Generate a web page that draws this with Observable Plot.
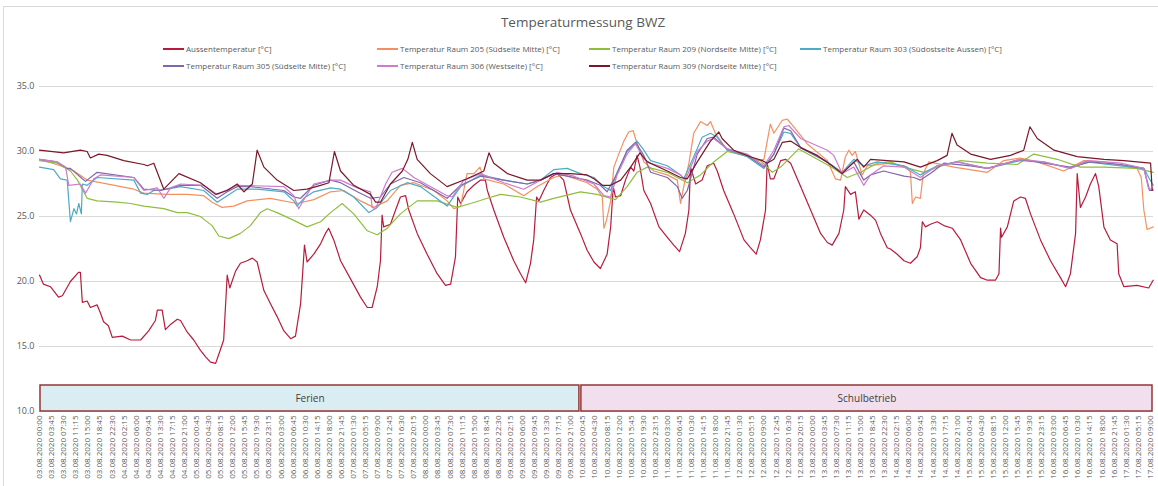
<!DOCTYPE html>
<html><head><meta charset="utf-8">
<script src="https://cdn.jsdelivr.net/npm/d3@7"></script>
<script src="https://cdn.jsdelivr.net/npm/@observablehq/plot@0.6"></script>
<style>
body{margin:0;background:#fff;font-family:"Open Sans",sans-serif;}
#wrap{position:relative;width:1158px;height:486px;overflow:hidden;}
#frame{position:absolute;left:3px;top:6px;width:1160px;height:490px;border:1px solid #d9d9d9;box-sizing:border-box;}
#title{position:absolute;top:13px;left:0;width:1166px;text-align:center;font-size:13.5px;color:#595959;}
.leg{position:absolute;font-size:8px;color:#595959;display:flex;align-items:center;white-space:nowrap;line-height:10px;}
.leg .sw{display:inline-block;width:21px;height:2px;margin-right:2px;}
#chart{position:absolute;top:76px;left:0;}
</style></head>
<body>
<div id="wrap">
  <div id="frame"></div>
  <div id="title">Temperaturmessung BWZ</div>
  <div id="legend"></div>
  <div id="chart"></div>
</div>
<script>
// ---------- data (hours since 03.08.2020 00:00, °C) ----------
const seriesNames = [
  "Aussentemperatur [°C]",
  "Temperatur Raum 205 (Südseite Mitte) [°C]",
  "Temperatur Raum 209 (Nordseite Mitte) [°C]",
  "Temperatur Raum 303 (Südostseite Aussen) [°C]",
  "Temperatur Raum 305 (Südseite Mitte) [°C]",
  "Temperatur Raum 306 (Westseite) [°C]",
  "Temperatur Raum 309 (Nordseite Mitte) [°C]"
];
const seriesColors = ["#b71c3c","#f5905e","#8fbe3c","#4bacc6","#8067ab","#cc7ccc","#7a1729"];

const aussen = [[0,20.5],[1.2,19.8],[3.4,19.6],[5.9,18.8],[7.1,18.9],[9.6,20.0],[12.1,20.7],[12.7,20.7],[13.3,18.4],[14.8,18.5],[15.8,18.0],[17.9,18.2],[18.9,17.6],[19.9,16.9],[21.4,16.6],[22.6,15.7],[25.7,15.8],[28.3,15.5],[31.4,15.5],[33.9,16.2],[36.0,17.0],[36.6,17.8],[38.1,17.8],[39.1,16.3],[40.7,16.7],[42.8,17.1],[43.8,17.0],[45.9,16.1],[47.9,15.5],[50.0,14.7],[51.6,14.2],[53.1,13.8],[54.7,13.7],[55.7,14.4],[57.2,15.5],[58.3,20.5],[59.1,19.5],[60.9,20.8],[62.4,21.4],[64.5,21.6],[66.1,21.8],[67.6,21.5],[69.7,19.3],[71.7,18.3],[73.8,17.3],[75.9,16.2],[78.0,15.6],[79.5,15.8],[81.1,18.3],[82.3,22.8],[83.1,21.5],[85.2,22.1],[87.3,22.9],[88.8,23.7],[89.8,24.1],[91.4,23.2],[93.5,21.6],[96.6,20.2],[99.7,18.8],[101.8,18.0],[103.3,18.0],[104.9,19.6],[105.9,21.6],[106.4,25.1],[106.9,24.2],[109.0,24.4],[110.6,25.5],[112.1,26.5],[113.7,26.6],[114.7,25.5],[117.3,23.7],[120.4,22.1],[123.5,20.6],[126.1,19.7],[127.7,19.8],[129.2,21.9],[129.9,26.5],[130.8,26.0],[132.8,26.9],[134.9,27.4],[137.0,27.8],[138.5,27.8],[139.1,27.0],[141.1,25.5],[144.2,23.4],[147.3,21.6],[149.4,20.6],[151.0,19.9],[152.5,21.4],[153.5,23.2],[154.4,26.5],[155.1,26.2],[156.6,27.0],[158.7,28.0],[160.8,28.3],[162.8,27.8],[164.9,25.5],[168.0,23.7],[170.1,22.4],[172.2,21.5],[174.2,21.0],[176.3,22.1],[177.4,24.2],[178.2,27.3],[178.9,26.5],[180.5,26.6],[182.0,27.8],[183.6,28.8],[184.6,28.5],[185.6,29.7],[186.5,28.8],[187.7,27.0],[189.8,26.0],[192.4,24.2],[195.0,23.4],[197.0,22.8],[198.8,22.3],[200.6,23.7],[201.7,25.5],[202.2,28.8],[203.8,27.5],[205.8,27.8],[207.4,28.9],[209.4,29.1],[210.5,28.5],[212.5,27.0],[215.6,25.2],[218.8,23.2],[220.8,22.6],[222.6,22.1],[223.9,23.2],[225.5,25.5],[226.0,29.1],[227.0,27.9],[228.1,27.9],[230.2,29.3],[231.7,29.4],[233.3,29.1],[236.4,27.3],[239.5,25.5],[242.6,23.7],[244.7,23.0],[246.2,22.8],[248.3,23.7],[249.8,25.5],[250.3,27.3],[251.9,26.7],[253.4,26.9],[254.5,24.8],[256.0,25.5],[258.1,25.1],[259.7,24.7],[261.2,23.7],[263.3,22.6],[264.3,22.5],[266.4,22.1],[268.5,21.6],[270.5,21.4],[272.6,21.9],[273.6,22.6],[274.2,24.6],[275.2,24.2],[276.7,24.4],[278.8,24.6],[280.9,24.3],[283.5,24.1],[286.1,23.2],[289.2,21.4],[292.3,20.3],[294.4,20.1],[296.9,20.1],[298.0,20.6],[298.5,24.1],[298.8,23.4],[300.6,24.2],[302.6,26.2],[304.7,26.5],[306.2,26.4],[307.8,25.2],[310.9,23.2],[314.0,21.6],[317.1,20.3],[318.7,19.6],[320.2,20.6],[321.8,23.7],[322.3,28.3],[323.3,25.7],[324.9,26.5],[326.4,27.5],[328.0,28.3],[329.0,27.3],[330.6,24.2],[332.6,23.2],[334.7,22.9],[335.2,20.6],[336.8,19.6],[340.9,19.7],[344.5,19.5],[345.9,20.1]];

const raum205 = [[0,29.4],[6.5,28.9],[10.7,28.5],[14.8,27.8],[18.9,27.6],[29.3,27.1],[32.4,26.8],[39.7,26.7],[45.9,26.7],[51.0,26.6],[53.6,26.1],[56.7,25.7],[60.3,25.8],[64.5,26.2],[71.7,26.4],[80.0,26.0],[85.2,26.3],[90.4,26.9],[94.5,27.0],[99.7,26.2],[103.8,25.7],[108.0,26.2],[112.1,27.4],[116.3,27.6],[122.5,27.0],[126.6,26.2],[128.7,25.6],[130.8,25.8],[132.8,28.3],[134.9,28.3],[136.8,28.8],[138.0,27.9],[144.2,27.5],[150.4,26.6],[154.6,27.3],[159.7,28.0],[162.8,28.2],[170.1,27.6],[173.2,27.1],[174.8,26.5],[175.3,24.1],[176.1,24.7],[177.4,26.2],[178.4,28.8],[179.9,29.8],[181.5,30.8],[183.0,31.5],[184.4,31.6],[185.1,31.0],[187.7,29.2],[190.8,28.5],[195.0,28.2],[198.1,27.8],[199.1,26.0],[200.1,27.3],[201.7,29.1],[203.2,31.4],[205.3,32.3],[207.4,32.0],[208.4,32.3],[209.9,31.4],[213.6,30.1],[219.8,29.7],[222.9,29.3],[225.0,29.4],[227.0,32.1],[228.1,31.4],[230.7,32.4],[232.2,32.5],[234.3,31.9],[238.4,30.6],[244.7,29.3],[247.2,27.9],[248.8,27.8],[250.3,29.6],[251.4,30.1],[252.4,29.7],[253.4,30.0],[255.5,28.2],[257.1,28.9],[264.3,29.1],[269.5,28.8],[270.5,28.4],[271.1,26.0],[272.1,26.5],[273.6,26.4],[274.5,28.3],[276.2,29.2],[284.0,28.8],[294.4,28.4],[299.5,29.3],[304.7,29.5],[309.9,29.2],[318.1,28.5],[324.4,29.3],[330.6,29.2],[340.9,28.7],[342.2,28.0],[343.0,25.5],[344.0,24.0],[345.9,24.2]];

const raum209 = [[0,29.3],[5.5,29.1],[9.6,28.5],[11.8,27.8],[14.8,26.4],[17.9,26.2],[24.1,26.1],[28.3,26.0],[32.4,25.8],[38.6,25.6],[42.8,25.3],[45.9,25.3],[50.0,25.0],[51.0,24.8],[53.6,24.3],[55.7,23.5],[58.8,23.3],[62.4,23.7],[65.5,24.3],[68.6,25.3],[70.7,25.6],[73.8,25.3],[79.0,24.7],[83.1,24.2],[87.3,24.6],[90.4,25.3],[94.0,26.0],[97.6,25.2],[101.8,23.9],[104.9,23.6],[108.0,24.1],[112.1,25.2],[117.3,26.2],[123.5,26.2],[129.7,25.7],[133.9,26.0],[139.1,26.4],[143.2,26.7],[149.4,26.5],[155.6,26.1],[159.7,26.4],[168.0,26.9],[173.2,26.7],[178.9,26.3],[182.5,27.3],[185.6,28.4],[188.8,28.8],[195.0,28.4],[201.2,27.6],[205.3,28.2],[209.4,29.2],[213.6,30.0],[218.8,29.7],[223.9,29.3],[227.6,28.4],[230.2,28.8],[235.8,30.2],[241.6,29.4],[246.7,28.7],[250.9,28.0],[255.0,28.4],[260.2,29.1],[264.3,29.2],[268.5,28.8],[274.7,28.4],[278.8,28.8],[286.1,29.3],[294.4,29.1],[303.7,29.0],[308.8,29.8],[316.1,29.4],[323.3,28.8],[330.6,28.8],[340.9,28.7],[345.9,28.4]];

const raum303 = [[0,28.8],[4.4,28.6],[6.5,27.9],[8.6,27.8],[9.1,26.2],[9.6,24.6],[10.7,25.6],[11.5,25.2],[12.2,26.0],[13.0,25.2],[13.3,27.5],[14.8,27.4],[17.9,28.0],[29.3,27.8],[31.4,26.8],[33.5,26.7],[35.5,27.0],[39.7,27.1],[43.8,27.3],[51.0,27.0],[55.2,26.1],[58.3,26.6],[61.4,27.1],[67.6,27.1],[75.9,26.9],[79.0,26.2],[80.0,25.8],[82.1,26.4],[85.2,26.9],[90.4,27.2],[93.5,27.1],[97.6,26.5],[102.3,25.3],[104.9,25.7],[109.0,27.0],[114.2,27.6],[118.3,27.3],[126.6,25.8],[130.8,27.3],[137.0,28.2],[144.2,27.8],[151.5,27.5],[155.6,27.8],[159.7,28.6],[163.9,28.7],[168.0,28.3],[172.2,28.0],[175.3,27.3],[177.4,27.0],[179.4,28.4],[182.5,30.0],[185.6,30.8],[187.7,30.1],[189.8,29.3],[195.0,28.9],[199.1,28.2],[200.1,27.9],[203.2,29.6],[205.8,31.1],[208.4,31.4],[210.5,31.1],[213.6,30.1],[219.8,29.6],[225.0,28.7],[228.1,29.8],[231.2,31.5],[233.3,31.4],[236.4,30.3],[244.7,29.2],[249.3,28.4],[252.9,29.4],[256.0,28.9],[260.2,29.2],[268.5,28.9],[273.6,28.2],[278.8,28.9],[285.0,29.2],[294.4,28.7],[304.7,29.3],[311.9,29.2],[320.2,28.7],[325.4,29.2],[335.8,28.9],[343.0,28.7],[344.5,28.0],[345.9,27.4]];

const raum305 = [[0,29.4],[5.5,29.2],[8.6,28.7],[9.6,28.7],[13.3,27.9],[14.3,27.7],[17.9,28.4],[29.3,28.0],[32.4,27.1],[37.6,27.0],[43.8,27.4],[50.0,27.4],[52.1,27.0],[55.2,26.4],[58.3,26.9],[61.4,27.3],[65.5,27.3],[75.9,27.0],[79.0,26.5],[81.1,26.4],[85.2,27.4],[90.4,27.8],[93.5,27.6],[98.7,26.9],[102.8,26.4],[105.9,26.5],[109.0,27.5],[113.2,28.0],[118.3,27.6],[126.6,26.4],[130.8,27.4],[137.0,28.1],[144.2,27.8],[151.5,27.5],[155.6,27.8],[159.7,28.3],[163.9,28.1],[170.1,27.8],[174.2,27.4],[176.3,26.9],[179.4,28.3],[182.5,30.1],[185.1,30.7],[187.7,29.7],[189.8,28.4],[195.0,28.0],[198.1,27.3],[199.6,26.4],[201.2,27.0],[204.3,29.8],[207.4,31.0],[209.4,31.1],[213.6,30.2],[219.8,29.7],[225.0,28.8],[228.1,29.8],[231.2,31.8],[233.3,31.6],[236.4,30.3],[244.7,29.2],[249.3,28.3],[252.9,29.2],[256.0,27.8],[258.1,28.2],[262.2,28.5],[268.5,28.1],[271.6,28.0],[273.6,27.8],[276.7,28.3],[280.9,29.1],[289.2,28.9],[294.4,28.7],[304.7,29.4],[311.9,29.1],[320.2,28.8],[326.4,29.2],[335.8,29.0],[343.0,28.7],[344.8,27.0],[345.9,27.0]];

const raum306 = [[0,29.4],[5.5,29.2],[8.1,28.8],[9.1,27.4],[12.7,27.5],[14.3,26.8],[16.9,27.9],[18.9,28.2],[29.3,28.0],[32.4,27.0],[36.6,27.2],[38.6,26.4],[40.7,27.2],[43.8,27.5],[51.0,27.4],[55.2,26.7],[61.4,27.4],[75.9,27.3],[79.0,26.6],[80.5,25.6],[82.6,26.5],[85.2,27.5],[90.4,27.8],[93.5,27.8],[98.7,27.2],[102.8,26.9],[103.3,25.7],[104.4,25.6],[107.5,27.5],[109.5,28.4],[112.7,28.7],[116.3,28.0],[126.6,26.6],[128.2,26.5],[131.8,27.8],[137.0,28.3],[144.2,27.6],[150.4,27.1],[155.6,27.8],[160.8,28.4],[166.0,28.1],[172.2,27.5],[175.3,26.6],[177.4,26.5],[179.4,28.2],[182.5,29.8],[185.1,30.6],[187.7,29.4],[189.8,29.1],[195.0,28.7],[199.1,28.2],[200.6,27.8],[204.3,30.0],[207.4,30.8],[209.4,31.0],[213.6,30.2],[219.8,29.8],[225.0,28.9],[228.1,30.1],[231.2,31.9],[232.7,32.0],[236.4,31.0],[244.7,30.1],[246.7,29.7],[249.3,28.3],[252.9,28.8],[256.0,27.4],[258.1,28.2],[262.2,28.9],[268.5,28.8],[273.6,28.0],[278.8,28.9],[285.0,29.2],[294.4,28.7],[304.7,29.4],[311.9,29.2],[320.2,28.7],[325.4,29.3],[335.8,29.1],[343.0,28.7],[344.5,27.1],[345.9,27.1]];

const raum309 = [[0,30.1],[7.5,29.9],[12.7,30.1],[14.8,30.0],[15.8,29.5],[18.4,29.8],[21.0,29.7],[26.2,29.3],[32.4,29.0],[33.5,28.9],[35.5,29.1],[38.6,27.1],[43.3,28.3],[50.0,27.6],[54.7,26.7],[58.3,27.0],[61.4,27.5],[63.5,26.9],[66.1,27.5],[67.6,30.1],[69.7,28.8],[73.8,27.8],[79.0,27.0],[83.1,27.1],[87.3,27.4],[89.9,27.6],[91.6,30.0],[93.5,28.5],[97.6,27.4],[102.8,26.7],[104.4,26.1],[105.9,26.1],[109.0,27.5],[112.7,28.5],[114.4,29.4],[115.8,30.7],[117.3,29.4],[121.4,28.3],[126.6,27.3],[132.8,27.9],[138.0,28.5],[139.6,29.9],[141.1,29.1],[145.3,28.3],[151.5,27.8],[155.6,27.8],[159.7,28.3],[164.9,28.3],[170.1,28.2],[172.2,27.9],[174.8,27.4],[177.4,27.4],[180.5,27.8],[183.6,28.8],[186.5,29.9],[188.8,29.2],[195.0,28.5],[199.1,28.0],[201.2,27.9],[204.3,29.2],[208.4,30.8],[211.0,31.5],[212.0,31.0],[215.6,30.1],[220.8,29.6],[224.5,29.3],[226.0,29.1],[228.1,29.4],[230.7,30.7],[233.3,30.8],[236.4,30.3],[241.6,29.7],[246.7,28.8],[249.3,28.3],[250.9,28.7],[254.0,29.4],[256.0,28.8],[258.1,29.4],[268.5,29.2],[273.6,28.8],[278.8,29.3],[281.9,29.7],[283.4,31.4],[285.0,30.5],[289.2,29.8],[295.4,29.4],[301.6,29.7],[305.7,30.1],[307.6,31.9],[309.9,31.0],[315.1,30.1],[322.3,29.6],[330.6,29.4],[336.8,29.3],[345.1,29.1],[345.6,27.0]];

const seriesData = [aussen, raum205, raum209, raum303, raum305, raum306, raum309];

const phaseNames = ["Ferien", "Schulbetrieb"];
const phaseStart = [0, 168];
const phaseEnd = [168, 346];
const phaseFill = ["#daedf3", "#f2dfee"];

const yTicks = [10, 15, 20, 25, 30, 35];
const xTickLabels = [
"03.08.2020 00:00","03.08.2020 03:45","03.08.2020 07:30","03.08.2020 11:15","03.08.2020 15:00","03.08.2020 18:45","03.08.2020 22:30",
"04.08.2020 02:15","04.08.2020 06:00","04.08.2020 09:45","04.08.2020 13:30","04.08.2020 17:15","04.08.2020 21:00",
"05.08.2020 00:45","05.08.2020 04:30","05.08.2020 08:15","05.08.2020 12:00","05.08.2020 15:45","05.08.2020 19:30","05.08.2020 23:15",
"06.08.2020 03:00","06.08.2020 06:45","06.08.2020 10:30","06.08.2020 14:15","06.08.2020 18:00","06.08.2020 21:45",
"07.08.2020 01:30","07.08.2020 05:15","07.08.2020 09:00","07.08.2020 12:45","07.08.2020 16:30","07.08.2020 20:15",
"08.08.2020 00:00","08.08.2020 03:45","08.08.2020 07:30","08.08.2020 11:15","08.08.2020 15:00","08.08.2020 18:45","08.08.2020 22:30",
"09.08.2020 02:15","09.08.2020 06:00","09.08.2020 09:45","09.08.2020 13:30","09.08.2020 17:15","09.08.2020 21:00",
"10.08.2020 00:45","10.08.2020 04:30","10.08.2020 08:15","10.08.2020 12:00","10.08.2020 15:45","10.08.2020 19:30","10.08.2020 23:15",
"11.08.2020 03:00","11.08.2020 06:45","11.08.2020 10:30","11.08.2020 14:15","11.08.2020 18:00","11.08.2020 21:45",
"12.08.2020 01:30","12.08.2020 05:15","12.08.2020 09:00","12.08.2020 12:45","12.08.2020 16:30","12.08.2020 20:15",
"13.08.2020 00:00","13.08.2020 03:45","13.08.2020 07:30","13.08.2020 11:15","13.08.2020 15:00","13.08.2020 18:45","13.08.2020 22:30",
"14.08.2020 02:15","14.08.2020 06:00","14.08.2020 09:45","14.08.2020 13:30","14.08.2020 17:15","14.08.2020 21:00",
"15.08.2020 00:45","15.08.2020 04:30","15.08.2020 08:15","15.08.2020 12:00","15.08.2020 15:45","15.08.2020 19:30","15.08.2020 23:15",
"16.08.2020 03:00","16.08.2020 06:45","16.08.2020 10:30","16.08.2020 14:15","16.08.2020 18:00","16.08.2020 21:45",
"17.08.2020 01:30","17.08.2020 05:15","17.08.2020 09:00"
];

// ---------- derived ----------
function labelToHours(s) {
  const day = +s.slice(0, 2), hh = +s.slice(11, 13), mm = +s.slice(14, 16);
  return (day - 3) * 24 + hh + mm / 60;
}
const xTickHours = xTickLabels.map(labelToHours);
const labelByHour = new Map(xTickHours.map((h, i) => [h, xTickLabels[i]]));
const phases = phaseNames.map((n, i) => ({name: n, start: phaseStart[i], end: phaseEnd[i], fill: phaseFill[i]}));

// ---------- legend ----------
const legendPos = [[163,44],[377,44],[589,44],[800,44],[163,61],[377,61],[589,61]];
const legend = document.getElementById("legend");
seriesNames.forEach((name, si) => {
  const d = document.createElement("div");
  d.className = "leg";
  d.style.left = legendPos[si][0] + "px";
  d.style.top = legendPos[si][1] + "px";
  const sw = document.createElement("span");
  sw.className = "sw";
  sw.style.background = seriesColors[si];
  d.appendChild(sw);
  d.appendChild(document.createTextNode(name));
  legend.appendChild(d);
});

// ---------- chart ----------
const lineMarks = seriesData.map((arr, i) =>
  Plot.line(arr, {x: d => d[0], y: d => d[1], stroke: seriesColors[i], strokeWidth: 1.2})
);

const chart = Plot.plot({
  width: 1158,
  height: 410,
  marginTop: 10,
  marginBottom: 75,
  marginLeft: 39,
  marginRight: 5,
  style: {fontFamily: "Open Sans, sans-serif", color: "#595959", background: "transparent", overflow: "visible"},
  x: {type: "linear", domain: [0, 346], axis: null},
  y: {domain: [10, 35], axis: null},
  marks: [
    Plot.gridY(yTicks, {stroke: "#d9d9d9", strokeOpacity: 1, strokeWidth: 1}),
    Plot.axisY(yTicks, {tickSize: 0, tickPadding: 5, tickFormat: d => d.toFixed(1), fontSize: 9, fill: "#595959"}),
    Plot.axisX(xTickHours, {tickSize: 0, tickPadding: 4, tickRotate: -90, tickFormat: d => labelByHour.get(d), fontSize: 8, fill: "#595959"}),
    Plot.rect(phases, {x1: "start", x2: "end", y1: 10, y2: 12, fill: "fill", stroke: "#943634", strokeWidth: 1.5, insetLeft: 1, insetRight: 1}),
    Plot.text(phases, {x: d => (d.start + d.end) / 2, y: 11, text: "name", fontSize: 10, fill: "#404040"}),
    ...lineMarks
  ]
});
document.getElementById("chart").appendChild(chart);
</script>
</body></html>
